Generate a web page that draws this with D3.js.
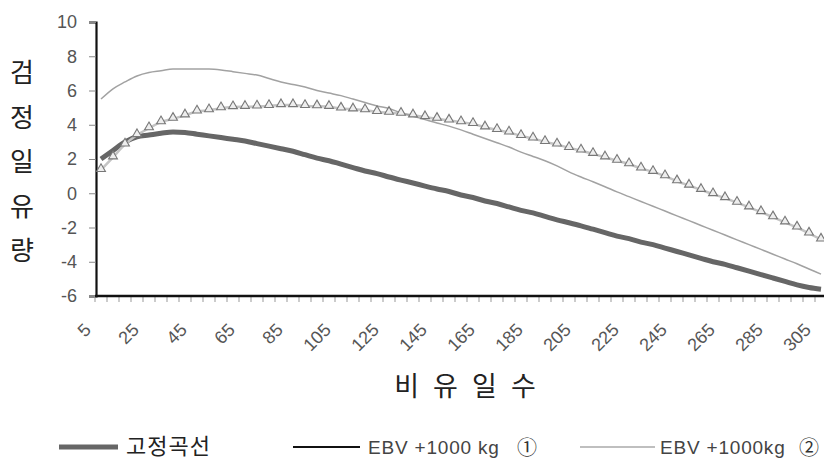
<!DOCTYPE html>
<html>
<head>
<meta charset="utf-8">
<script src="https://cdn.jsdelivr.net/npm/d3@7"></script>
<style>
  body { margin: 0; background: #fff; }
  svg { display: block; }
</style>
</head>
<body>
<div class="chart"></div>
<script>
// 비유일수 (5일 간격)
var days = [5,10,15,20,25,30,35,40,45,50,55,60,65,70,75,80,85,90,95,100,
    105,110,115,120,125,130,135,140,145,150,155,160,165,170,175,180,185,190,195,200,
    205,210,215,220,225,230,235,240,245,250,255,260,265,270,275,280,285,290,295,300,305];

// 고정곡선 (굵은 회색)
var fixedCurve = [2.0,2.5,3.0,3.3,3.4,3.5,3.58,3.55,3.45,3.35,3.25,3.15,3.05,2.9,2.75,2.6,2.45,2.25,2.05,1.9,
    1.7,1.5,1.3,1.15,0.95,0.77,0.6,0.42,0.25,0.1,-0.1,-0.25,-0.45,-0.6,-0.8,-1.0,-1.15,-1.35,-1.55,-1.72,
    -1.9,-2.1,-2.3,-2.5,-2.65,-2.85,-3.0,-3.2,-3.4,-3.6,-3.8,-4.0,-4.15,-4.35,-4.55,-4.75,-4.95,-5.15,-5.35,-5.5,-5.6];

// 가는 선 (위쪽 곡선)
var ebvLine = [5.5,6.1,6.5,6.85,7.05,7.15,7.25,7.25,7.25,7.25,7.2,7.1,7.0,6.9,6.7,6.5,6.35,6.2,6.0,5.85,
    5.7,5.5,5.3,5.1,4.95,4.7,4.5,4.3,4.1,3.92,3.7,3.45,3.2,2.95,2.7,2.4,2.15,1.9,1.6,1.25,
    0.95,0.67,0.38,0.08,-0.2,-0.48,-0.76,-1.04,-1.32,-1.6,-1.88,-2.16,-2.44,-2.72,-3.0,-3.28,-3.56,-3.84,-4.12,-4.42,-4.72];

// 삼각형 표시 곡선
var ebvTri = [1.36,2.1,2.85,3.4,3.8,4.15,4.35,4.55,4.78,4.85,4.97,5.03,5.05,5.07,5.1,5.15,5.15,5.1,5.08,5.05,
    4.95,4.9,4.85,4.75,4.7,4.65,4.55,4.45,4.35,4.25,4.15,4.05,3.85,3.7,3.55,3.35,3.2,3.0,2.85,2.65,
    2.5,2.3,2.1,1.9,1.7,1.45,1.25,1.0,0.7,0.45,0.2,-0.05,-0.28,-0.55,-0.82,-1.1,-1.4,-1.7,-2.0,-2.35,-2.7];

var yTicks = [-6,-4,-2,0,2,4,6,8,10];
var xLabels = [5,25,45,65,85,105,125,145,165,185,205,225,245,265,285,305];

var legendNames = ["고정곡선", "EBV +1000 kg", "EBV +1000kg"];
var legendMarks = ["", "①", "②"];

var W = 824, H = 461;
var plotLeft = 96, plotTop = 22, plotBottom = 296;

var svg = d3.select(".chart").append("svg")
    .attr("width", W)
    .attr("height", H);

var x = d3.scaleBand()
    .domain(days)
    .range([95, 95 + days.length * 12])
    .padding(0);

var y = d3.scaleLinear()
    .domain([-6, 10])
    .range([plotBottom, plotTop]);

function cx(d) { return x(d) + x.bandwidth() / 2; }

// y축
var yAxis = svg.append("g")
    .attr("transform", "translate(" + plotLeft + ",0)")
    .call(d3.axisLeft(y).tickValues(yTicks).tickSize(7).tickPadding(12)
        .tickFormat(function (d) { return String(d); }));
yAxis.select(".domain").attr("stroke", "#111").attr("stroke-width", 2.2);
yAxis.selectAll(".tick line").attr("stroke", "#888").attr("stroke-width", 1);
yAxis.selectAll(".tick text")
    .attr("fill", "#555")
    .style("font-family", "Liberation Sans, Arial, sans-serif")
    .style("font-size", "18px");

// x축 (눈금은 구간 경계)
var xAxis = svg.append("g")
    .attr("transform", "translate(" + (-x.step() / 2) + "," + plotBottom + ")")
    .call(d3.axisBottom(x).tickSize(6).tickFormat(""));
xAxis.select(".domain").remove();
xAxis.selectAll(".tick line").attr("stroke", "#999").attr("stroke-width", 1);

svg.append("line")
    .attr("x1", plotLeft - 1).attr("x2", W)
    .attr("y1", plotBottom).attr("y2", plotBottom)
    .attr("stroke", "#111").attr("stroke-width", 2.5);

svg.append("g").selectAll("text")
    .data(xLabels)
    .enter()
    .append("text")
    .attr("transform", function (d) { return "translate(" + (cx(d) - 9) + ",331) rotate(-45)"; })
    .attr("text-anchor", "end")
    .attr("fill", "#555")
    .style("font-family", "Liberation Sans, Arial, sans-serif")
    .style("font-size", "18px")
    .text(function (d) { return d; });

// 선
var line = d3.line()
    .x(function (d, i) { return cx(days[i]); })
    .y(function (d) { return y(d); })
    .curve(d3.curveMonotoneX);

svg.append("path")
    .attr("d", line(fixedCurve))
    .attr("fill", "none")
    .attr("stroke", "#666")
    .attr("stroke-width", 5);

svg.append("path")
    .attr("d", line(ebvTri))
    .attr("fill", "none")
    .attr("stroke", "#c4c4c4")
    .attr("stroke-width", 2.5);

svg.append("path")
    .attr("d", line(ebvLine))
    .attr("fill", "none")
    .attr("stroke", "#a2a2a2")
    .attr("stroke-width", 1.5);

var tri = d3.symbol().type(d3.symbolTriangle).size(34);
svg.append("g").selectAll("path")
    .data(ebvTri)
    .enter()
    .append("path")
    .attr("d", tri)
    .attr("transform", function (d, i) { return "translate(" + cx(days[i]) + "," + (y(d) - 1) + ")"; })
    .attr("fill", "#eee")
    .attr("stroke", "#777")
    .attr("stroke-width", 1.1);

// 축 제목
var yTitle = "검정일유량".split("");
svg.append("g").selectAll("text")
    .data(yTitle)
    .enter()
    .append("text")
    .attr("x", 22)
    .attr("y", function (d, i) { return 82 + i * 44.5; })
    .attr("text-anchor", "middle")
    .attr("fill", "#222")
    .style("font-family", "Noto Sans CJK KR, sans-serif")
    .style("font-size", "26px")
    .text(function (d) { return d; });

svg.append("text")
    .attr("x", 467)
    .attr("y", 396)
    .attr("text-anchor", "middle")
    .attr("fill", "#222")
    .style("font-family", "Noto Sans CJK KR, sans-serif")
    .style("font-size", "27px")
    .style("letter-spacing", "4px")
    .text("비 유 일 수");

// 범례
var legendX = [[59, 118, 126], [293, 360, 368], [580, 655, 660]];
var legendStroke = [["#666", 5], ["#111", 2], ["#aaa", 1.3]];
var markX = [0, 527, 809];
var lg = svg.append("g");
legendNames.forEach(function (name, i) {
    lg.append("line")
        .attr("x1", legendX[i][0]).attr("x2", legendX[i][1])
        .attr("y1", 447).attr("y2", 447)
        .attr("stroke", legendStroke[i][0])
        .attr("stroke-width", legendStroke[i][1]);
    var t = lg.append("text")
        .attr("x", legendX[i][2])
        .attr("y", 454)
        .attr("fill", i === 0 ? "#222" : "#444")
        .text(name);
    if (i === 0) {
        t.style("font-family", "Noto Sans CJK KR, sans-serif")
            .style("font-size", "22px")
            .style("letter-spacing", "1px");
    } else {
        t.style("font-family", "Liberation Sans, Arial, sans-serif")
            .style("font-size", "19px")
            .style("letter-spacing", "0.8px");
        lg.append("text")
            .attr("x", markX[i])
            .attr("y", 455)
            .attr("text-anchor", "middle")
            .attr("fill", "#333")
            .style("font-family", "Noto Sans CJK KR, sans-serif")
            .style("font-size", "20px")
            .text(legendMarks[i]);
    }
});
</script>
</body>
</html>
